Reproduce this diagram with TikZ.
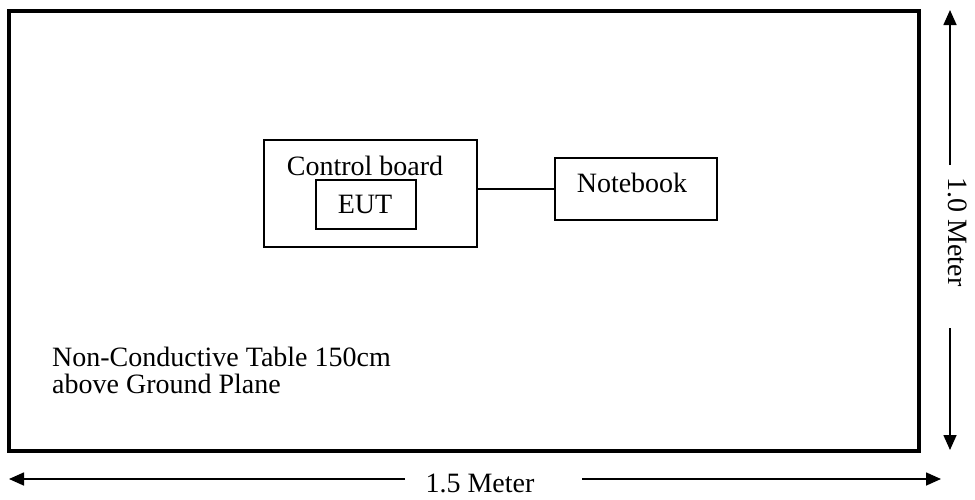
\documentclass[tikz,border=0pt]{standalone}
\usepackage{fontspec}
\setmainfont{Liberation Serif}
\usetikzlibrary{arrows.meta,positioning}

\begin{document}
\begin{tikzpicture}[x=1pt, y=-1pt,
    line cap=butt, line join=miter,
    box/.style={draw, line width=2pt, inner sep=0pt},
    txt/.style={anchor=base, inner sep=0pt},
    dim/.style={line width=1.6pt, -{Triangle[length=15pt,width=13pt]}}]
\fontsize{28}{27}\selectfont
\useasboundingbox (0,0) rectangle (975,499);

% TABLE
\draw[line width=4pt] (9,11) rectangle (919,451);
\node[txt, anchor=base west] (tabletop) at (52,366) {Non-Conductive Table 150cm};
\node[txt, anchor=base west] (tablebot) at (52,393) {above Ground Plane};

% BOXES
\node[box, minimum width=213pt, minimum height=107pt] (board) at (370.5,193.5) {};
\node[txt] (boardlabel) at (365,175) {Control board};
\node[box, minimum width=100pt, minimum height=49pt] (eut) at (366,204.5) {};
\node[txt] (eutlabel) at (365,213) {EUT};
\node[box, minimum width=162pt, minimum height=62pt] (notebook) at (636,189) {};
\node[txt] (notebooklabel) at (632,192) {Notebook};

% cable
\draw[line width=1.6pt] (notebook.west) -- (notebook.west -| board.east);

% DIMENSIONS
\coordinate (vtop) at (950,10);
\coordinate (vbot) at (950,450);
\coordinate (vgapa) at (950,165);
\coordinate (vgapb) at (950,328);
\node[txt, rotate=-90] (vlabel) at (948,232) {1.0 Meter};
\draw[dim] (vgapa) -- (vtop);
\draw[dim] (vgapb) -- (vbot);

\coordinate (hleft) at (9,479);
\coordinate (hright) at (941,479);
\coordinate (hgapa) at (405,479);
\coordinate (hgapb) at (582,479);
\node[txt] (hlabel) at (480,492) {1.5 Meter};
\draw[dim] (hgapa) -- (hleft);
\draw[dim] (hgapb) -- (hright);

\end{tikzpicture}
\end{document}
